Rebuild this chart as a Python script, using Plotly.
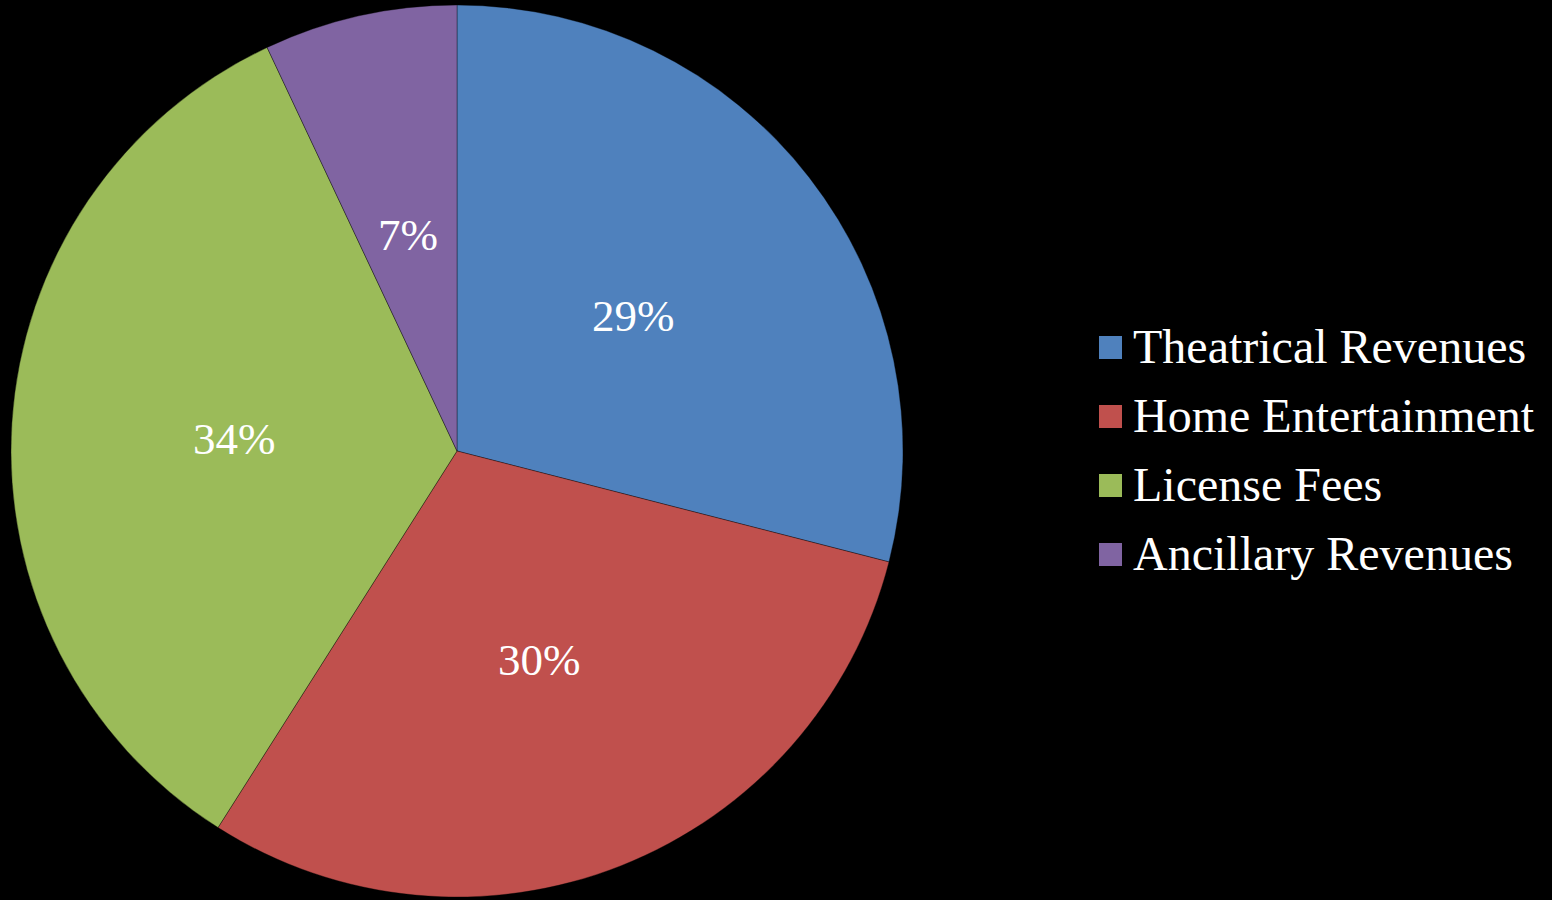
import math
import plotly.graph_objects as go

# Revenue breakdown
labels = ["Theatrical Revenues", "Home Entertainment", "License Fees", "Ancillary Revenues"]
values = [29, 30, 34, 7]
colors = ["#4F81BD", "#C0504D", "#9BBB59", "#8064A2"]

W, H = 1552, 900
# pie geometry in pixels
cx, cy, R = 457, 451, 446

fig = go.Figure(go.Pie(
    labels=labels,
    values=values,
    sort=False,
    direction="clockwise",
    rotation=0,
    marker=dict(colors=colors, line=dict(color="rgba(0,0,0,0.35)", width=1)),
    textinfo="none",
    hoverinfo="label+percent",
    showlegend=False,
    domain=dict(x=[(cx - R) / W, (cx + R) / W], y=[1 - (cy + R) / H, 1 - (cy - R) / H]),
))

font_family = "Liberation Serif, Times New Roman, serif"
annotations = []
shapes = []

# percentage labels at half radius, along each slice's mid-angle
total = sum(values)
cum = 0
for v in values:
    mid = (cum + v / 2) / total * 2 * math.pi
    cum += v
    r = 0.5 * R
    px = cx + r * math.sin(mid)
    py = cy - r * math.cos(mid) + 2
    annotations.append(dict(
        x=px / W, y=1 - py / H, xref="paper", yref="paper",
        text=f"{round(v / total * 100)}%", showarrow=False,
        xanchor="center", yanchor="middle",
        font=dict(family=font_family, size=45, color="white"),
    ))

# legend
lx0, ly0, step, sq = 1099, 347.5, 69, 23
for i, (lab, col) in enumerate(zip(labels, colors)):
    yc = ly0 + i * step
    shapes.append(dict(
        type="rect", xref="paper", yref="paper",
        x0=lx0 / W, x1=(lx0 + sq) / W,
        y0=1 - (yc + sq / 2) / H, y1=1 - (yc - sq / 2) / H,
        fillcolor=col, line=dict(width=0),
    ))
    annotations.append(dict(
        x=1131 / W, y=1 - (yc - 1) / H, xref="paper", yref="paper",
        text=lab, showarrow=False, xanchor="left", yanchor="middle",
        font=dict(family=font_family, size=48, color="white"),
    ))

fig.update_layout(
    width=W, height=H,
    margin=dict(l=0, r=0, t=0, b=0),
    paper_bgcolor="black", plot_bgcolor="black",
    annotations=annotations, shapes=shapes,
)

fig.write_html("out.html")
